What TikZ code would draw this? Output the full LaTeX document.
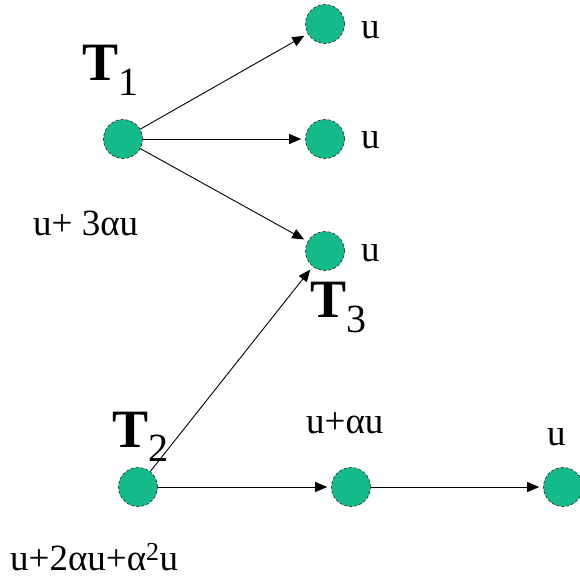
\documentclass[tikz,border=0pt]{standalone}
\usepackage{fontspec}
\setmainfont{Liberation Serif}
\usetikzlibrary{arrows.meta}
\definecolor{Jade}{HTML}{14BA8A}

\begin{document}
\begin{tikzpicture}[
    x=1pt, y=-1pt,
    dot/.style={circle, fill=Jade, draw=black!85, densely dashed, line width=0.6pt, minimum size=39pt, inner sep=0pt},
    arr/.style={-{Triangle[length=12pt, width=10pt]}, line width=0.9pt, shorten >=4pt},
    lbl/.style={font=\fontsize{37}{37}\selectfont, inner sep=0pt, anchor=base west},
    tlbl/.style={font=\fontsize{54}{54}\selectfont\bfseries, inner sep=0pt, anchor=base west}
]
\useasboundingbox (0,0) rectangle (579,581);

% Upper tree
\node[dot] (t1) at (123,139) {};
\node[dot] (a) at (325,24) {};
\node[dot] (b) at (325,139) {};
\node[dot] (t3) at (325,251) {};
\draw[arr] (t1) -- (a);
\draw[arr] (t1) -- (b);
\draw[arr] (t1) -- (t3);

% Lower chain
\node[dot] (t2) at (138,487) {};
\node[dot] (m) at (351,487) {};
\node[dot] (r) at (563,487) {};
\draw[arr] (t2) -- (t3);
\draw[arr] (t2) -- (m);
\draw[arr] (m) -- (r);

% Task labels
\node[tlbl] (t1lbl) at (82,80) {T\raisebox{-15pt}{\fontsize{40}{40}\selectfont\mdseries 1}};
\node[tlbl] (t2lbl) at (112,447) {T\raisebox{-14pt}{\fontsize{40}{40}\selectfont\mdseries 2}};
\node[tlbl] (t3lbl) at (310,317) {T\raisebox{-15pt}{\fontsize{40}{40}\selectfont\mdseries 3}};

% Values
\node[lbl] (ua) at (361,38) {u};
\node[lbl] (ub) at (361,148) {u};
\node[lbl] (ut3) at (361,261) {u};
\node[lbl] (ut1) at (33,235) {u+ 3αu};
\node[lbl] (um) at (306,433) {u+αu};
\node[lbl] (ur) at (547,445) {u};
\node[lbl] (ut2) at (10,570) {u+2αu+α\textsuperscript{2}u};

\end{tikzpicture}
\end{document}
